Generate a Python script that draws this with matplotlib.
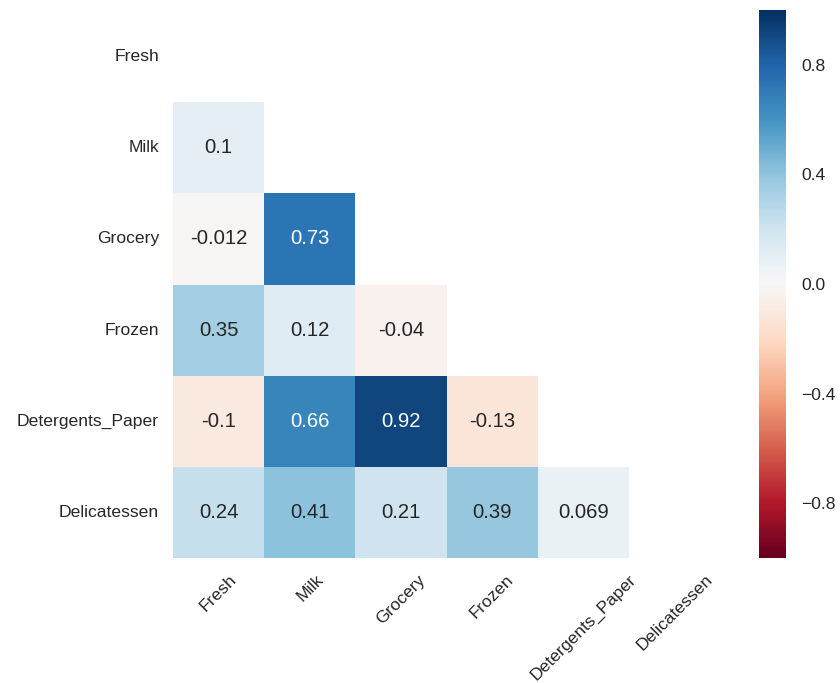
"""
plot.py
Lower-triangle correlation heatmap of the wholesale customer spending categories.
"""
import matplotlib
matplotlib.use("Agg")

import matplotlib.pyplot as plt
import numpy as np
import seaborn as sns

CATEGORIES = ["Fresh", "Milk", "Grocery", "Frozen", "Detergents_Paper", "Delicatessen"]

# lower triangle of the correlation matrix, one list per row (below the diagonal)
ROW_MILK = [0.1]
ROW_GROCERY = [-0.012, 0.73]
ROW_FROZEN = [0.35, 0.12, -0.04]
ROW_DETERGENTS = [-0.1, 0.66, 0.92, -0.13]
ROW_DELICATESSEN = [0.24, 0.41, 0.21, 0.39, 0.069]

CBAR_TICKS = [-0.8, -0.4, 0.0, 0.4, 0.8]

OUT_PATH = "out.png"
DPI = 100


def build_corr() -> np.ndarray:
    rows = [[], ROW_MILK, ROW_GROCERY, ROW_FROZEN, ROW_DETERGENTS, ROW_DELICATESSEN]
    n = len(CATEGORIES)
    corr = np.eye(n)
    for i, row in enumerate(rows):
        for j, val in enumerate(row):
            corr[i, j] = val
            corr[j, i] = val
    return corr


def main() -> None:
    sns.set_style("white")
    plt.rcParams["font.family"] = ["Liberation Sans", "DejaVu Sans"]
    text_color = "#262626"

    corr = build_corr()
    mask = np.triu(np.ones_like(corr, dtype=bool))

    fig = plt.figure(figsize=(8.4, 6.83), dpi=DPI)
    ax = fig.add_axes([0.2060, 0.1830, 0.6512, 0.8009])
    cax = fig.add_axes([0.9036, 0.1830, 0.0321, 0.8023])

    sns.heatmap(
        corr, mask=mask, cmap="RdBu", vmin=-1, vmax=1,
        annot=True, annot_kws={"fontsize": 14.6},
        square=True, ax=ax, cbar_ax=cax,
        xticklabels=CATEGORIES, yticklabels=CATEGORIES,
    )
    ax.set_position([0.2060, 0.1830, 0.6512, 0.8009])
    cax.set_position([0.9036, 0.1830, 0.0321, 0.8023])

    ax.tick_params(axis="both", length=0, pad=10, labelsize=12.6, colors=text_color)
    plt.setp(ax.get_xticklabels(), rotation=45, ha="center")
    plt.setp(ax.get_yticklabels(), rotation=0)

    cax.set_yticks(CBAR_TICKS)
    cax.tick_params(length=0, pad=11, labelsize=12.6, colors=text_color)
    for spine in cax.spines.values():
        spine.set_visible(False)

    fig.savefig(OUT_PATH, dpi=DPI)
    plt.close(fig)


if __name__ == "__main__":
    main()
